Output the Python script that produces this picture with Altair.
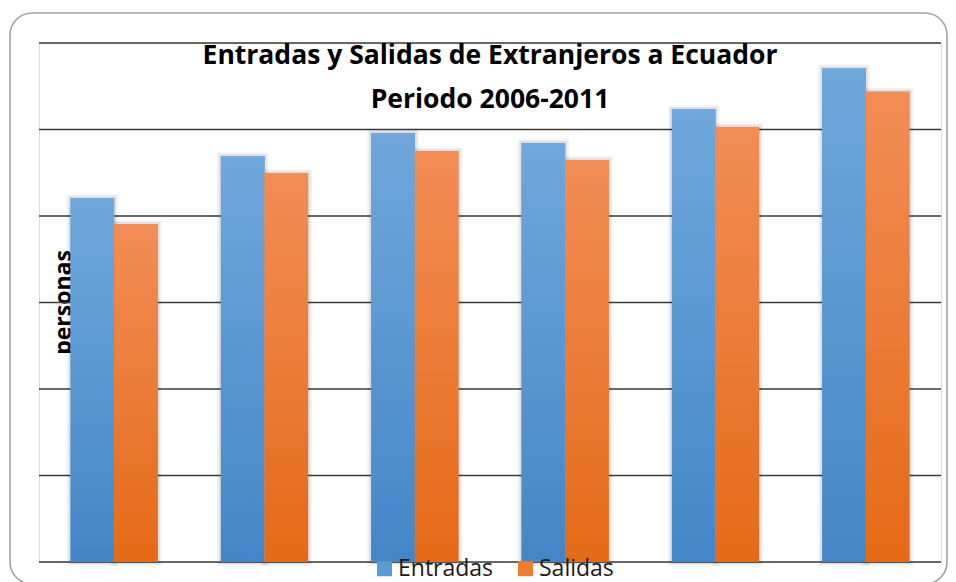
import altair as alt
import pandas as pd

years = ["2006", "2007", "2008", "2009", "2010", "2011"]
entradas = [841000, 938000, 992000, 969000, 1047000, 1141000]
salidas = [781000, 899000, 950000, 929000, 1006000, 1087000]
series = ["Entradas", "Salidas"]
y_ticks = [0, 200000, 400000, 600000, 800000, 1000000, 1200000]

rows = []
for i, yr in enumerate(years):
    rows.append({"year": yr, "serie": "Entradas", "valor": entradas[i]})
    rows.append({"year": yr, "serie": "Salidas", "valor": salidas[i]})
df = pd.DataFrame(rows)
ticks_df = pd.DataFrame({"valor": y_ticks})

FONT = "Open Sans"
PW, PH = 902, 519

grad_blue = {"gradient": "linear", "x1": 0, "y1": 0, "x2": 0, "y2": 1,
             "stops": [{"offset": 0, "color": "#70A7DC"}, {"offset": 1, "color": "#4386C7"}]}
grad_orange = {"gradient": "linear", "x1": 0, "y1": 0, "x2": 0, "y2": 1,
               "stops": [{"offset": 0, "color": "#F28D56"}, {"offset": 1, "color": "#E46A17"}]}

y_scale = alt.Scale(domain=[0, 1200000], nice=False, zero=True)
y_axis = alt.Axis(values=y_ticks, labels=False, ticks=False, domain=False, grid=False,
                  title="personas", titleFont=FONT, titleFontSize=23,
                  titleFontWeight="bold", titleColor="#000000",
                  titleAngle=270, titleX=31, titleY=259,
                  titleAlign="center", titleBaseline="alphabetic")

x_enc = alt.X("year:N", axis=None, sort=years,
              scale=alt.Scale(paddingInner=0.42, paddingOuter=0.21))
xo_enc = alt.XOffset("serie:N", sort=series, scale=alt.Scale(domain=series, paddingInner=0, paddingOuter=0))
y_enc = alt.Y("valor:Q", scale=y_scale, axis=y_axis)

rules = alt.Chart(ticks_df).mark_rule(color="#3a3a3a", strokeWidth=1.3).encode(
    y=y_enc, x=alt.value(0), x2=alt.value(PW)
)

base = alt.Chart(df).encode(x=x_enc, xOffset=xo_enc, y=y_enc)

shadow1 = base.mark_bar(fill="transparent", stroke="#000000", strokeWidth=8, strokeOpacity=0.05)
shadow2 = base.mark_bar(fill="transparent", stroke="#000000", strokeWidth=4, strokeOpacity=0.08)

bars_legend = base.mark_bar().encode(
    color=alt.Color("serie:N", sort=series,
                    scale=alt.Scale(domain=series, range=["#5B9BD5", "#ED7D31"]),
                    legend=alt.Legend(title=None, orient="none", legendX=334, legendY=514,
                                      direction="horizontal", symbolType="square",
                                      symbolSize=225, symbolStrokeWidth=0,
                                      labelFont=FONT, labelFontSize=23, labelColor="#1a1a1a",
                                      labelOffset=2, columnPadding=20, padding=0))
)

bars_grad = base.mark_bar().encode(
    fill=alt.when(alt.datum.serie == "Entradas").then(alt.value(grad_blue)).otherwise(alt.value(grad_orange))
)

border = alt.Chart(pd.DataFrame({"k": [0]})).mark_rect(
    fill="transparent", stroke="#a3a3a3", strokeWidth=1.6, cornerRadius=22
).encode(x=alt.value(-29), x2=alt.value(908), y=alt.value(-30), y2=alt.value(541))

chart = alt.layer(border, rules, shadow1, shadow2, bars_legend, bars_grad).properties(
    width=PW, height=PH,
    autosize=alt.AutoSizeParams(type="none"),
    padding={"left": 31, "top": 35, "right": 7, "bottom": 20},
    title=alt.TitleParams(text=["Entradas y Salidas de Extranjeros a Ecuador", "Periodo 2006-2011"],
                          font=FONT, fontSize=26.5, fontWeight="bold", color="#000000",
                          lineHeight=44, anchor="middle", offset=-101),
).configure_view(stroke=None).configure(background="white")

chart.save("out.html", embed_options={"renderer": "svg", "actions": False})
